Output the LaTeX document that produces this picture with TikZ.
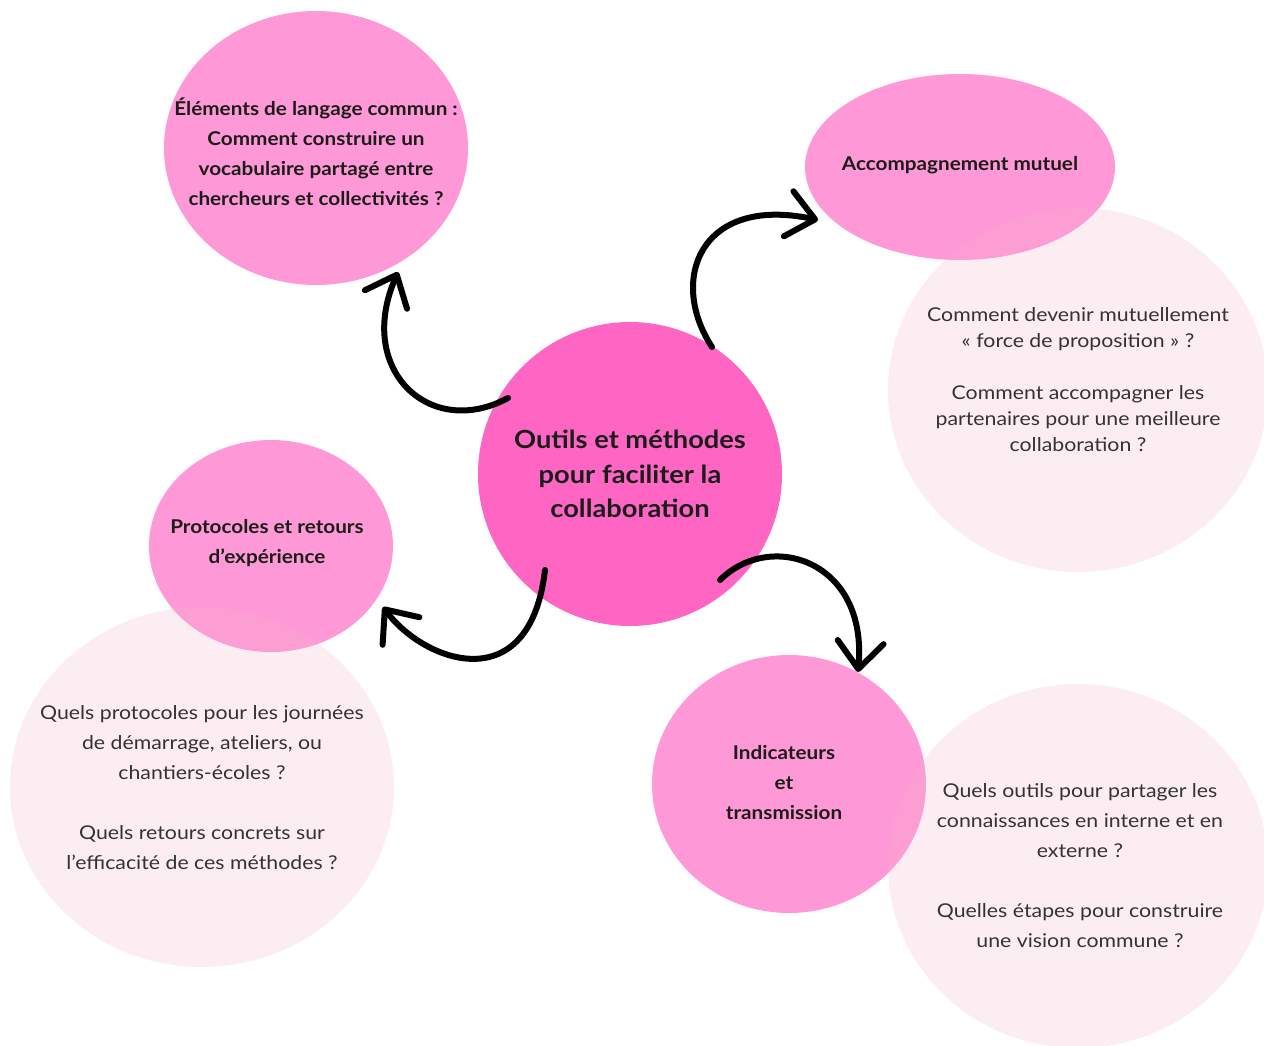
\documentclass[tikz,border=0pt]{standalone}
\usepackage{fontspec}
\setmainfont{Lato}
\newfontfamily\bodyfont[FakeStretch=1.12]{Lato}
\newfontfamily\headfont[FakeStretch=1.09]{Lato}
\usetikzlibrary{shapes.geometric,arrows.meta,calc}
\definecolor{hub}{HTML}{FF66C4}
\definecolor{bub}{HTML}{FF98D6}
\definecolor{pale}{RGB}{244,178,205}
\definecolor{ink}{HTML}{1C1C1C}
\definecolor{greyink}{HTML}{333333}
\begin{document}
\begin{tikzpicture}[x=1pt,y=-1pt,
  bubble/.style={ellipse, fill=bub, inner sep=0pt, draw=none},
  hubnode/.style={circle, fill=hub, inner sep=0pt, draw=none},
  paleb/.style={ellipse, fill=pale, fill opacity=0.24, inner sep=0pt, draw=none},
  titletxt/.style={align=center, text=ink, font=\headfont\bfseries\fontsize{19}{30}\selectfont},
  hubtxt/.style={align=center, text=ink, font=\headfont\bfseries\fontsize{25}{34.5}\selectfont},
  bodytxt/.style={align=center, text=greyink, font=\bodyfont\fontsize{19}{30}\selectfont},
  arr/.style={draw=black, line width=6pt, line cap=round, line join=round,
    -{Straight Barb[length=27pt,width=46pt,round]}}
]
\useasboundingbox (0,0) rectangle (1264,1045);
% pink bubbles
\node[hubnode, minimum size=304pt] (c) at (630,474) {};
\node[bubble, minimum width=304pt, minimum height=274pt] (e1) at (316,148) {};
\node[bubble, minimum width=310pt, minimum height=186pt] (e2) at (960,167) {};
\node[bubble, minimum width=244pt, minimum height=212pt] (e3) at (271,546) {};
\node[bubble, minimum width=274pt, minimum height=258pt] (e4) at (789,784) {};
% pale bubbles
\node[paleb, minimum width=380pt, minimum height=364pt] (p2) at (1078,390) {};
\node[paleb, minimum width=384pt, minimum height=360pt] (p3) at (202,787) {};
\node[paleb, minimum width=380pt, minimum height=364pt] (p4) at (1078,866) {};
% texts
\node[hubtxt] (ct) at (c.center) {Outils et méthodes\\pour faciliter la\\collaboration};
\node[titletxt] (e1t) at ($(e1.center)+(0,4)$) {Éléments de langage commun :\\Comment construire un\\vocabulaire partagé entre\\chercheurs et collectivités ?};
\node[titletxt] (e2t) at ($(e2.center)+(0,-2)$) {Accompagnement mutuel};
\node[titletxt] (e3t) at ($(e3.center)+(-4,-3)$) {Protocoles et retours\\d’expérience};
\node[titletxt] (e4t) at ($(e4.center)+(-5,-1)$) {Indicateurs\\et\\transmission};
\node[bodytxt, font=\bodyfont\fontsize{19}{26}\selectfont] (p2t) at ($(p2.center)+(0,-10)$) {Comment devenir mutuellement\\« force de proposition » ?\\[26pt]Comment accompagner les\\partenaires pour une meilleure\\collaboration ?};
\node[bodytxt] (p3t) at ($(p3.center)+(0,1)$) {Quels protocoles pour les journées\\de démarrage, ateliers, ou\\chantiers-écoles ?\\[30pt]Quels retours concrets sur\\l’efficacité de ces méthodes ?};
\node[bodytxt] (p4t) at ($(p4.center)+(2,0)$) {Quels outils pour partager les\\connaissances en interne et en\\externe ?\\[30pt]Quelles étapes pour construire\\une vision commune ?};
% arrows
\draw[arr] ($(c.center)+(-122,-76)$) .. controls (430,440) and (355,370) .. ($(e1.center)+(82,124)$);
\draw[arr] ($(c.center)+(82,-127)$) .. controls (668,280) and (700,195) .. ($(e2.center)+(-142,53)$);
\draw[arr] ($(c.center)+(-85,96)$) .. controls (530,700) and (425,663) .. ($(e3.center)+(112,61)$);
\draw[arr] ($(c.center)+(90,106)$) .. controls (770,530) and (868,560) .. ($(e4.center)+(69,-112)$);
\end{tikzpicture}
\end{document}
